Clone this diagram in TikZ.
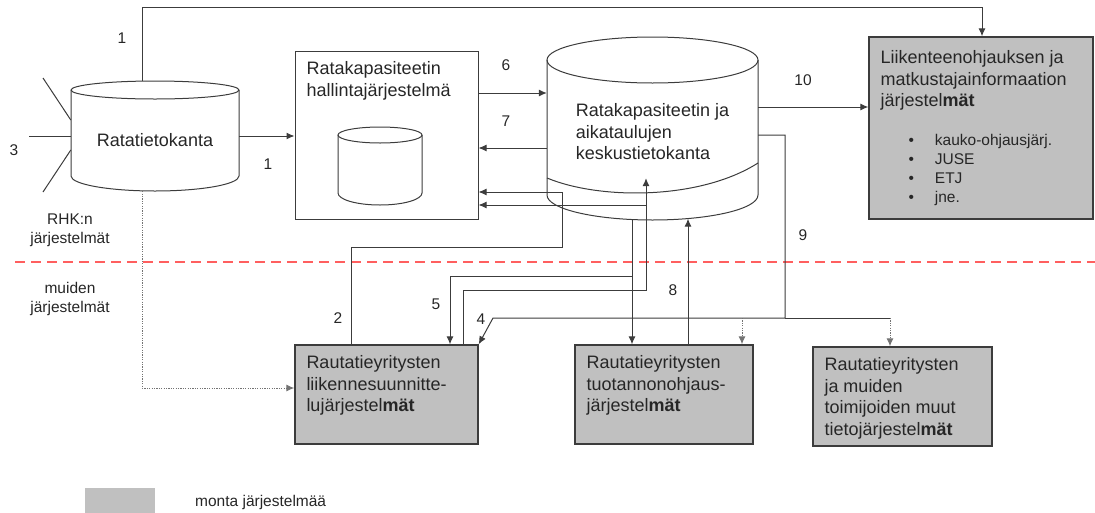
\documentclass[tikz,border=0pt]{standalone}
\usepackage{fontspec}
\setmainfont{Liberation Sans}
\usetikzlibrary{shapes}
\usetikzlibrary{arrows.meta}
\definecolor{boxgray}{RGB}{192,192,192}
\definecolor{linegray}{RGB}{60,60,60}
\definecolor{splitred}{RGB}{255,95,95}
\newcommand{\txtbig}{\fontsize{18}{21.5}\selectfont}
\newcommand{\txtsmall}{\fontsize{15.5}{19}\selectfont}
\tikzstyle{cylbody} = [rectangle, inner sep=0pt, font=\txtbig]
\tikzstyle{sysbox} = [rectangle, draw=linegray, line width=1pt, inner sep=0pt]
\tikzstyle{multibox} = [rectangle, draw=linegray, line width=1.4pt, fill=boxgray, inner sep=0pt]
\tikzstyle{boxtext} = [anchor=north west, align=left, inner xsep=12pt, inner ysep=11pt, font=\txtbig]
\tikzstyle{listtext} = [anchor=north west, inner sep=0pt, xshift=40pt, yshift=-96pt, font=\txtsmall]
\tikzstyle{num} = [inner sep=0pt, font=\txtsmall]
\tikzstyle{sidetext} = [inner sep=0pt, align=center, font=\txtsmall]
\tikzstyle{line} = [line width=1pt, draw=linegray]
\tikzstyle{arrow} = [line width=1pt, draw=linegray, -{Latex[length=8pt, width=7pt]}]
\tikzstyle{dotarrow} = [arrow, draw=black!55, dash pattern=on 1.2pt off 1.2pt]
\tikzstyle{divider} = [draw=splitred, line width=1.2pt, dash pattern=on 10pt off 6pt]

\begin{document}
\begin{tikzpicture}[x=1pt, y=-1pt, every node/.style={text=black!85}]
    \useasboundingbox (0,0) rectangle (1095,512);

    % databases
    \node(rata)[cylbody, minimum width=168, minimum height=110, text height=21pt, text depth=0pt] at (155,136) {Ratatietokanta};
    \draw[line] (71,90) -- (71,176) arc[start angle=180, end angle=0, x radius=84, y radius=15] -- (239,90);
    \draw[line] (155,90) ellipse [x radius=84, y radius=9];

    \node(keskus)[cylbody, align=left, minimum width=211, minimum height=176] at (652.5,132) {Ratakapasiteetin ja\\aikataulujen\\keskustietokanta};
    \draw[line] (547,60) -- (547,195) arc[start angle=180, end angle=0, x radius=105.5, y radius=25] -- (758,60);
    \draw[line] (652.5,60) ellipse [x radius=105.5, y radius=23];
    \draw[line] (547,178) .. controls (600,200) and (700,200) .. (758,163);

    % systems
    \node(hallinta)[sysbox, minimum width=183, minimum height=168,
        label={[boxtext]north west:{Ratakapasiteetin\\hallintajärjestelmä}}] at (386.5,135) {};
    \draw[line] (338,135) -- (338,193) arc[start angle=180, end angle=0, x radius=42, y radius=12] -- (422,135);
    \draw[line] (380,135) ellipse [x radius=42, y radius=8];

    \node(ohjaus)[multibox, minimum width=224, minimum height=182,
        label={[boxtext, inner ysep=14pt]north west:{Liikenteenohjauksen ja\\matkustajainformaation\\järjestel\textbf{mät}}},
        label={[listtext]north west:{\begin{tabular}{@{}l@{\hspace{21pt}}l@{}}\textbullet&kauko-ohjausjärj.\\ \textbullet&JUSE\\ \textbullet&ETJ\\ \textbullet&jne.\end{tabular}}}] at (981,128) {};

    \node(suunnittelu)[multibox, minimum width=183, minimum height=99,
        label={[boxtext]north west:{Rautatieyritysten\\liikennesuunnitte-\\lujärjestel\textbf{mät}}}] at (386.5,394.5) {};
    \node(tuotanto)[multibox, minimum width=178, minimum height=99,
        label={[boxtext]north west:{Rautatieyritysten\\tuotannonohjaus-\\järjestel\textbf{mät}}}] at (664,394.5) {};
    \node(muut)[multibox, minimum width=179, minimum height=99,
        label={[boxtext]north west:{Rautatieyritysten\\ja muiden\\toimijoiden muut\\tietojärjestel\textbf{mät}}}] at (902.5,396.5) {};

    % border between RHK and others
    \draw[divider] (15,262) -- (1095,262);
    \node(rhk)[sidetext] at (70,230) {RHK:n\\järjestelmät};
    \node(muiden)[sidetext] at (70,299) {muiden\\järjestelmät};

    % connectors
    \coordinate (feed1) at (43,78);
    \coordinate (feed2) at (29,136);
    \coordinate (feed3) at (43,192);
    \draw[line] (feed1) -- ([yshift=16pt]rata.west);
    \draw[line] (feed2) -- (rata.west);
    \draw[line] (feed3) -- ([yshift=-14pt]rata.west);

    \draw[arrow] (rata.east) -- (rata.east -| hallinta.west);
    \draw[arrow] ([xshift=-13pt]rata.north) -- ++(0,-73) -| ([xshift=1pt]ohjaus.north);
    \draw[dotarrow] ([xshift=-13pt]rata.south) |- ([yshift=6.5pt]suunnittelu.west);

    \draw[arrow] ([yshift=42pt]hallinta.east) coordinate (h6) -- (h6 -| keskus.west);
    \draw[arrow] ([yshift=-16pt]keskus.west) coordinate (k7) -- (k7 -| hallinta.east);

    \coordinate (bend2) at (562,247);
    \draw[arrow] ([xshift=-35.5pt]suunnittelu.north) |- (bend2) |- ([yshift=-57pt]hallinta.east);

    \coordinate (bend5) at (646,290);
    \coordinate (h5) at ([yshift=-70pt]hallinta.east);
    \draw[arrow] ([xshift=76.5pt]suunnittelu.north) |- (bend5) -- ([xshift=-6.5pt, yshift=42pt]keskus.south);
    \draw[arrow] (h5 -| bend5) -- (h5);

    \coordinate (bend4) at (632,276);
    \draw[arrow] ([xshift=-20.5pt]keskus.south) -- (bend4) -| ([xshift=63.5pt]suunnittelu.north);
    \draw[arrow] ([xshift=-20.5pt]keskus.south) -- ([xshift=-32pt]tuotanto.north);

    \draw[arrow] ([xshift=24pt]tuotanto.north) -- ([xshift=35.5pt, yshift=1.5pt]keskus.south);

    \coordinate (bend9) at (785,318);
    \coordinate (bend9l) at (493,318);
    \coordinate (bend9r) at (890,318);
    \coordinate (t9) at ([xshift=78pt]tuotanto.north);
    \draw[arrow] ([yshift=-3pt]keskus.east) -| (bend9) -- (bend9l) -- (suunnittelu.north east);
    \draw[line] (bend9) -- (bend9r);
    \draw[dotarrow] (bend9r) -- ([xshift=-12.5pt]muut.north);
    \draw[dotarrow] (t9 |- bend9) -- (t9);

    \draw[arrow] ([yshift=25pt]keskus.east) coordinate (k10) -- (k10 -| ohjaus.west);

    % numbers
    \node(n1top)[num] at (122,38) {1};
    \node(n1)[num] at (268,164) {1};
    \node(n3)[num] at (14,150) {3};
    \node(n6)[num] at (506,65) {6};
    \node(n7)[num] at (506,121) {7};
    \node(n10)[num] at (803,80) {10};
    \node(n9)[num] at (803,235) {9};
    \node(n8)[num] at (673,290) {8};
    \node(n2)[num] at (338,318) {2};
    \node(n5)[num] at (436,304) {5};
    \node(n4)[num] at (481,319) {4};

    % legend
    \node(legend)[fill=boxgray, minimum width=70, minimum height=25, inner sep=0pt] at (120,500) {};
    \node(legendtext)[sidetext, anchor=west] at (195,502) {monta järjestelmää};

\end{tikzpicture}
\end{document}
